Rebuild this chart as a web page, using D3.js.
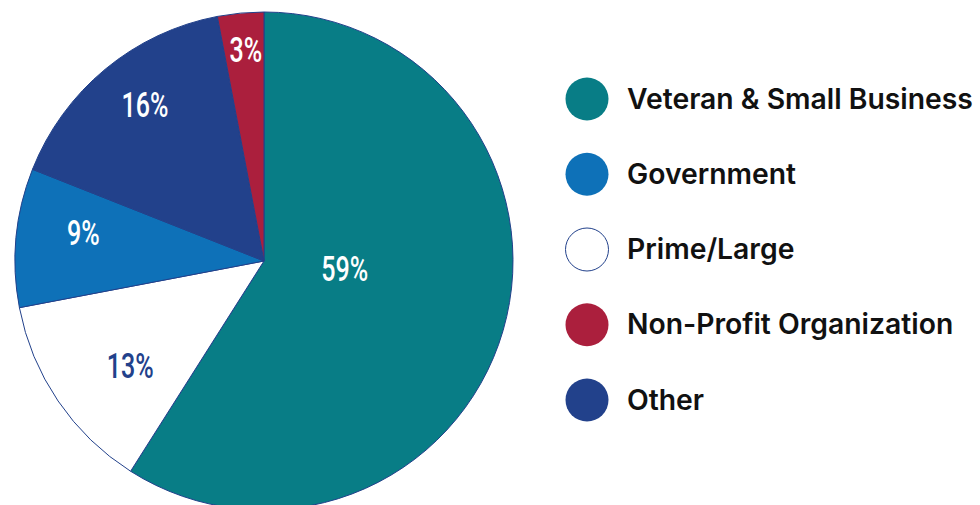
<!DOCTYPE html>
<html>
<head>
<meta charset="utf-8">
<script src="https://cdn.jsdelivr.net/npm/d3@7"></script>
<style>
  body { margin: 0; background: #fff; }
  .pct { font-family: Roboto, "Liberation Sans", sans-serif; font-weight: 500; font-size: 33px; }
  .leg { font-family: Inter, Lato, sans-serif; font-weight: 600; font-size: 28.3px; fill: #111; }
</style>
</head>
<body>
<div id="chart"></div>
<script>
// slices in drawing order, clockwise from 12 o'clock
const sliceNames = ["Veteran & Small Business", "Prime/Large", "Government", "Other", "Non-Profit Organization"]
const sliceValues = [59, 13, 9, 16, 3]
// legend order
const legendNames = ["Veteran & Small Business", "Government", "Prime/Large", "Non-Profit Organization", "Other"]

const colors = {
  "Veteran & Small Business": "#087d86",
  "Government": "#0e71b8",
  "Prime/Large": "#ffffff",
  "Non-Profit Organization": "#ab1f3d",
  "Other": "#22418b"
}
const navy = "#22418b"

const width = 980, height = 505
const cx = 264, cy = 261, radius = 249

const svg = d3.select("#chart").append("svg")
  .attr("width", width)
  .attr("height", height)

const data = sliceNames.map((name, i) => ({name, value: sliceValues[i]}))

const pie = d3.pie().value(d => d.value).sort(null)
const arc = d3.arc().innerRadius(0).outerRadius(radius)

const g = svg.append("g").attr("transform", `translate(${cx}, ${cy})`)
const arcs = pie(data)

g.selectAll("path")
  .data(arcs)
  .join("path")
  .attr("d", arc)
  .attr("fill", d => colors[d.data.name])
  .attr("stroke", navy)
  .attr("stroke-width", 1)

// labels are hand-placed in the original, so nudge the centroid a bit
const labelArc = d => d3.arc().innerRadius(0).outerRadius(radius * d.r)
const nudge = {
  "Veteran & Small Business": {r: 0.7, dx: -3, dy: -16},
  "Prime/Large": {r: 1.3, dx: 0, dy: 14},
  "Government": {r: 1.4, dx: -7, dy: -12},
  "Other": {r: 1.5, dx: 0, dy: -12},
  "Non-Profit Organization": {r: 1.72, dx: 2, dy: 2}
}

g.selectAll("text")
  .data(arcs)
  .join("text")
  .attr("class", "pct")
  .attr("text-anchor", "middle")
  .attr("dominant-baseline", "central")
  .attr("fill", d => d.data.name === "Prime/Large" ? navy : "#fff")
  .attr("transform", d => {
    const n = nudge[d.data.name]
    const c = labelArc(n).centroid(d)
    return `translate(${c[0] + n.dx}, ${c[1] + n.dy}) scale(0.76, 1.08)`
  })
  .text(d => d.value + "%")

const legendY = d3.scalePoint().domain(legendNames).range([99, 400])

const leg = svg.append("g")
  .selectAll("g")
  .data(legendNames)
  .join("g")
  .attr("transform", d => `translate(587, ${legendY(d)})`)

leg.append("circle")
  .attr("r", 21.5)
  .attr("fill", d => colors[d])
  .attr("stroke", d => d === "Prime/Large" ? navy : "none")
  .attr("stroke-width", 1)

leg.append("text")
  .attr("class", "leg")
  .attr("x", 40)
  .attr("y", 9.5)
  .text(d => d)
</script>
</body>
</html>
